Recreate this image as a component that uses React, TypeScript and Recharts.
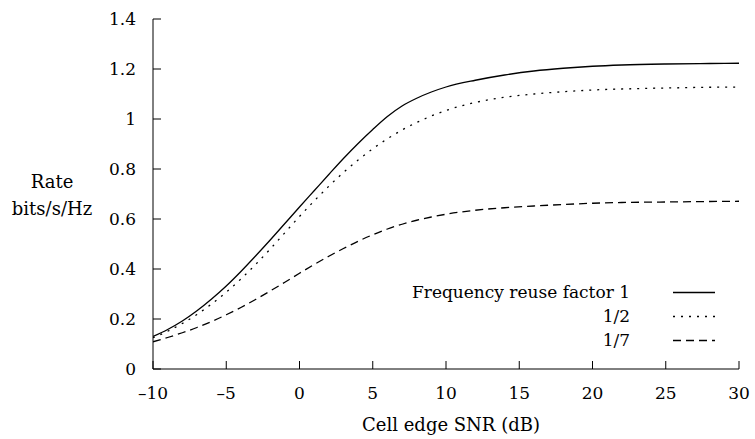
import { LineChart, Line, XAxis, YAxis, Legend } from "recharts"

const FONT = "DejaVu Serif"

// cell edge SNR (dB)
const snr = [
  -10, -9, -8, -7, -6, -5, -4, -3, -2, -1, 0, 1, 2, 3, 4, 5, 6, 7, 8, 9, 10,
  12, 14, 16, 18, 20, 22, 25, 28, 30,
]
// rate, bits/s/Hz
const reuse1 = [
  0.13, 0.158, 0.192, 0.233, 0.28, 0.332, 0.39, 0.452, 0.516, 0.582, 0.648, 0.713, 0.778, 0.842, 0.902, 0.958, 1.01,
  1.052, 1.083, 1.108, 1.128, 1.155, 1.176, 1.192, 1.203, 1.211, 1.216, 1.22, 1.222, 1.223,
]
const reuse2 = [
  0.125, 0.151, 0.182, 0.218, 0.26, 0.307, 0.36, 0.418, 0.48, 0.545, 0.61, 0.672, 0.731, 0.786, 0.836, 0.881, 0.921,
  0.956, 0.986, 1.012, 1.034, 1.066, 1.087, 1.1, 1.109, 1.116, 1.12, 1.124, 1.127, 1.128,
]
const reuse7 = [
  0.109, 0.126, 0.145, 0.166, 0.19, 0.217, 0.246, 0.278, 0.312, 0.347, 0.383, 0.418, 0.451, 0.482, 0.511, 0.537, 0.56,
  0.579, 0.595, 0.608, 0.619, 0.635, 0.645, 0.652, 0.658, 0.663, 0.666, 0.668, 0.67, 0.671,
]
const seriesNames = ["Frequency reuse factor 1", "1/2", "1/7"]
const xTicks = [-10, -5, 0, 5, 10, 15, 20, 25, 30]
const yTicks = [0, 0.2, 0.4, 0.6, 0.8, 1, 1.2, 1.4]

const data = snr.map((s, i) => ({ snr: s, r1: reuse1[i], r2: reuse2[i], r7: reuse7[i] }))

const fmt = (v: number) => String(v).replace("-", "\u2013")

function XTick(props: any) {
  const { x, y, payload } = props
  return (
    <text x={x} y={y} dy="0.71em" textAnchor="middle" fontFamily={FONT} fontSize={17} fill="#000">
      {fmt(payload.value)}
    </text>
  )
}

function YTick(props: any) {
  const { x, y, payload } = props
  return (
    <text x={x} y={y} dy="0.355em" textAnchor="end" fontFamily={FONT} fontSize={17} fill="#000">
      {fmt(payload.value)}
    </text>
  )
}

function XTitle(props: any) {
  const { viewBox } = props
  const cx = viewBox.x + viewBox.width / 2 + 5
  return (
    <text x={cx} y={431} textAnchor="middle" fontFamily={FONT} fontSize={18} fill="#000">
      Cell edge SNR (dB)
    </text>
  )
}

function YTitle(props: any) {
  const { viewBox } = props
  const cx = viewBox.x - 41
  return (
    <g fontFamily={FONT} fontSize={18} fill="#000">
      <text x={cx} y={188} textAnchor="middle">
        Rate
      </text>
      <text x={cx} y={215} textAnchor="middle">
        bits/s/Hz
      </text>
    </g>
  )
}

function KeyBox(props: any) {
  const items = props.payload || []
  return (
    <div style={{ fontFamily: FONT, fontSize: 17, color: "#000" }}>
      {items.map((item: any, i: number) => (
        <div key={i} style={{ height: 24, display: "flex", alignItems: "center" }}>
          <div style={{ width: 232, textAlign: "right", lineHeight: "24px", whiteSpace: "nowrap" }}>{item.value}</div>
          <svg width={90} height={24}>
            <line
              x1={43}
              x2={85}
              y1={12.5}
              y2={12.5}
              stroke="#000"
              strokeWidth={1.3}
              strokeDasharray={item.payload?.strokeDasharray}
            />
          </svg>
        </div>
      ))}
    </div>
  )
}

export default function App() {
  return (
    <div style={{ position: "absolute", left: 0, top: 0, fontFamily: FONT }}>
      <LineChart width={755} height={439} data={data} margin={{ top: 19, right: 16, bottom: 30, left: 93 }}>
        <XAxis
          dataKey="snr"
          type="number"
          domain={[-10, 30]}
          ticks={xTicks}
          allowDataOverflow
          height={40}
          stroke="#000"
          tickSize={-8}
          tickMargin={26}
          tick={<XTick />}
          label={<XTitle />}
        />
        <XAxis
          xAxisId="top"
          orientation="top"
          dataKey="snr"
          type="number"
          domain={[-10, 30]}
          ticks={xTicks}
          height={0}
          stroke="#000"
          tickSize={-8}
          tick={false}
        />
        <YAxis
          type="number"
          domain={[0, 1.4]}
          ticks={yTicks}
          allowDataOverflow
          width={60}
          stroke="#000"
          tickSize={-8}
          tickMargin={25}
          tick={<YTick />}
          label={<YTitle />}
        />
        <YAxis
          yAxisId="right"
          orientation="right"
          type="number"
          domain={[0, 1.4]}
          ticks={yTicks}
          width={0}
          stroke="#000"
          tickSize={-8}
          tick={false}
        />
        <Legend
          layout="horizontal"
          verticalAlign="middle"
          align="center"
          itemSorter="dataKey"
          content={<KeyBox />}
          wrapperStyle={{ left: 398, top: 280, width: 330, height: 72 }}
        />
        <Line
          type="monotone"
          dataKey="r1"
          name={seriesNames[0]}
          stroke="#000"
          strokeWidth={1.3}
          dot={false}
          isAnimationActive={false}
        />
        <Line
          type="monotone"
          dataKey="r2"
          name={seriesNames[1]}
          stroke="#000"
          strokeWidth={1.3}
          strokeDasharray="2 6"
          dot={false}
          isAnimationActive={false}
        />
        <Line
          type="monotone"
          dataKey="r7"
          name={seriesNames[2]}
          stroke="#000"
          strokeWidth={1.3}
          strokeDasharray="8 5"
          dot={false}
          isAnimationActive={false}
        />
      </LineChart>
    </div>
  )
}
